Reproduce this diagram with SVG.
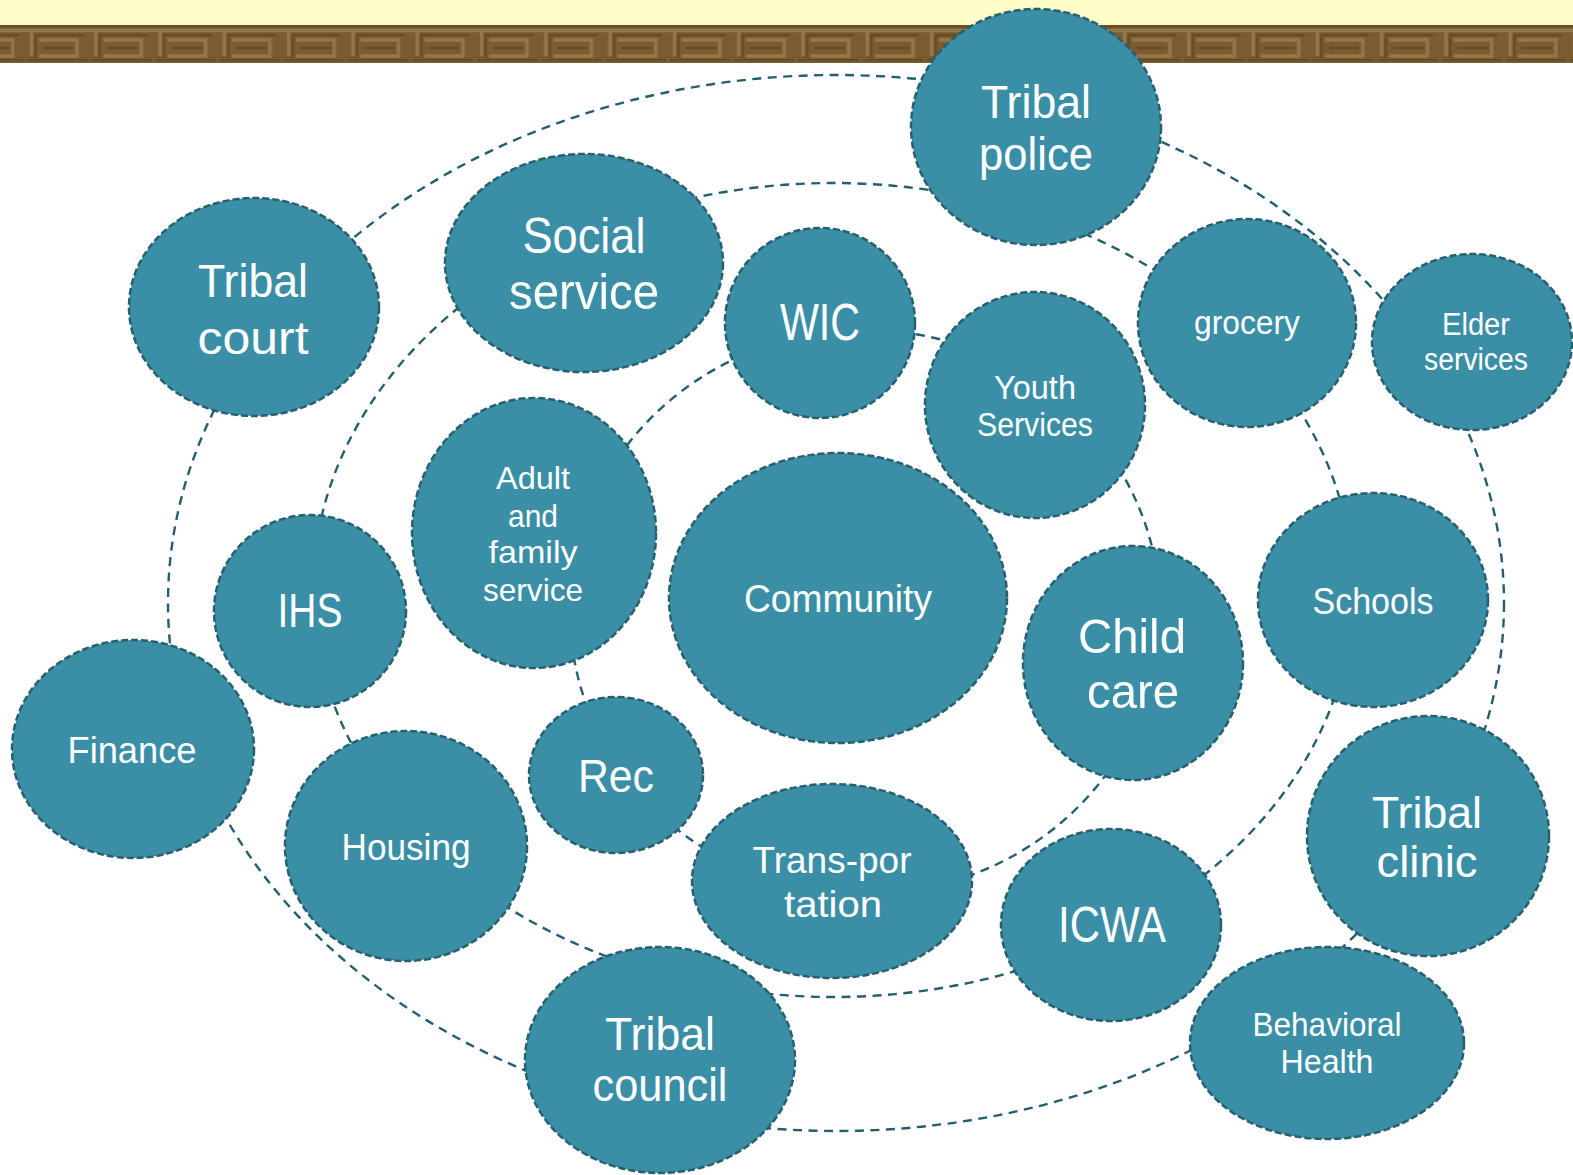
<svg xmlns="http://www.w3.org/2000/svg" width="1573" height="1175" viewBox="0 0 1573 1175">
  <defs>
    <style>
      .node ellipse { fill: #3a8fa7; stroke: #28606f; stroke-width: 2.5; stroke-dasharray: 7 3; }
      .node text { fill: #ffffff; font-family: "Liberation Sans", Arial, sans-serif; text-anchor: middle; }
      .ring { fill: none; stroke: #225f70; stroke-width: 2.4; stroke-dasharray: 9 6.5; }
      .key-hi { fill: none; stroke: #937749; stroke-width: 3.5; }
      .key-lo { fill: none; stroke: #694c23; stroke-width: 2.5; }
    </style>
    <!-- meander border tile -->
    <pattern id="meander" x="23" y="25" width="64.3" height="38" patternUnits="userSpaceOnUse">
      <rect width="64.3" height="38" fill="#7a5c30"/>
      <path class="key-lo" d="M0 1.5 H64.3 M12.5 33 V10 H60 M20 23 H50 M4 35 H64.3"/>
      <path class="key-hi" d="M0 5.5 H64.3 M8.5 5.5 V31 M16 15 H54 V31 H16"/>
    </pattern>
  </defs>

  <!-- page background and header band -->
  <rect width="1573" height="1175" fill="#ffffff"/>
  <rect width="1573" height="25" fill="#fffdc8"/>
  <rect y="25" width="1573" height="38" fill="url(#meander)"/>

  <!-- dashed rings linking the services -->
  <g id="connectors">
    <ellipse class="ring" cx="836" cy="603" rx="668" ry="528"/>
    <ellipse class="ring" cx="833" cy="590" rx="520" ry="407"/>
    <ellipse class="ring" cx="865" cy="612" rx="295" ry="282"/>
  </g>

  <g id="tribal-police" class="node">
    <ellipse cx="1036" cy="127" rx="125" ry="118"/>
    <text x="1036" y="118" font-size="46" textLength="110" lengthAdjust="spacingAndGlyphs">Tribal</text>
    <text x="1036" y="170" font-size="46" textLength="114" lengthAdjust="spacingAndGlyphs">police</text>
  </g>

  <g id="tribal-court" class="node">
    <ellipse cx="254" cy="307" rx="125" ry="109"/>
    <text x="253" y="297" font-size="46" textLength="110" lengthAdjust="spacingAndGlyphs">Tribal</text>
    <text x="253" y="354" font-size="46" textLength="111" lengthAdjust="spacingAndGlyphs">court</text>
  </g>

  <g id="social-service" class="node">
    <ellipse cx="584" cy="263" rx="139" ry="109"/>
    <text x="584" y="253" font-size="50" textLength="123" lengthAdjust="spacingAndGlyphs">Social</text>
    <text x="584" y="309" font-size="50" textLength="150" lengthAdjust="spacingAndGlyphs">service</text>
  </g>

  <g id="wic" class="node">
    <ellipse cx="820" cy="323" rx="95" ry="95"/>
    <text x="820" y="340" font-size="51" textLength="80" lengthAdjust="spacingAndGlyphs">WIC</text>
  </g>

  <g id="youth-services" class="node">
    <ellipse cx="1035" cy="405" rx="110" ry="113"/>
    <text x="1035" y="399" font-size="33" textLength="82" lengthAdjust="spacingAndGlyphs">Youth</text>
    <text x="1035" y="436" font-size="33" textLength="116" lengthAdjust="spacingAndGlyphs">Services</text>
  </g>

  <g id="grocery" class="node">
    <ellipse cx="1247" cy="323" rx="109" ry="104"/>
    <text x="1247" y="334" font-size="33" textLength="106" lengthAdjust="spacingAndGlyphs">grocery</text>
  </g>

  <g id="elder-services" class="node">
    <ellipse cx="1472" cy="342" rx="100" ry="88"/>
    <text x="1476" y="335" font-size="31" textLength="68" lengthAdjust="spacingAndGlyphs">Elder</text>
    <text x="1476" y="370" font-size="31" textLength="104" lengthAdjust="spacingAndGlyphs">services</text>
  </g>

  <g id="adult-family-service" class="node">
    <ellipse cx="534" cy="533" rx="122" ry="135"/>
    <text x="533" y="489" font-size="32" textLength="74" lengthAdjust="spacingAndGlyphs">Adult</text>
    <text x="533" y="527" font-size="32" textLength="50" lengthAdjust="spacingAndGlyphs">and</text>
    <text x="533" y="563" font-size="32" textLength="89" lengthAdjust="spacingAndGlyphs">family</text>
    <text x="533" y="601" font-size="32" textLength="100" lengthAdjust="spacingAndGlyphs">service</text>
  </g>

  <g id="ihs" class="node">
    <ellipse cx="310" cy="611" rx="96" ry="96"/>
    <text x="310" y="627" font-size="48" textLength="65" lengthAdjust="spacingAndGlyphs">IHS</text>
  </g>

  <g id="community" class="node">
    <ellipse cx="838" cy="598" rx="169" ry="145"/>
    <text x="838" y="612" font-size="39" textLength="188" lengthAdjust="spacingAndGlyphs">Community</text>
  </g>

  <g id="child-care" class="node">
    <ellipse cx="1133" cy="663" rx="110" ry="117"/>
    <text x="1132" y="653" font-size="49" textLength="108" lengthAdjust="spacingAndGlyphs">Child</text>
    <text x="1133" y="708" font-size="49" textLength="92" lengthAdjust="spacingAndGlyphs">care</text>
  </g>

  <g id="schools" class="node">
    <ellipse cx="1373" cy="600" rx="115" ry="107"/>
    <text x="1373" y="614" font-size="36" textLength="121" lengthAdjust="spacingAndGlyphs">Schools</text>
  </g>

  <g id="finance" class="node">
    <ellipse cx="133" cy="749" rx="121" ry="109"/>
    <text x="132" y="763" font-size="36" textLength="129" lengthAdjust="spacingAndGlyphs">Finance</text>
  </g>

  <g id="housing" class="node">
    <ellipse cx="406" cy="846" rx="121" ry="115"/>
    <text x="406" y="860" font-size="36" textLength="129" lengthAdjust="spacingAndGlyphs">Housing</text>
  </g>

  <g id="rec" class="node">
    <ellipse cx="616" cy="775" rx="87" ry="78"/>
    <text x="616" y="792" font-size="47" textLength="76" lengthAdjust="spacingAndGlyphs">Rec</text>
  </g>

  <g id="transportation" class="node">
    <ellipse cx="832" cy="881" rx="140" ry="97"/>
    <text x="832" y="873" font-size="37" textLength="159" lengthAdjust="spacingAndGlyphs">Trans-por</text>
    <text x="833" y="917" font-size="37" textLength="98" lengthAdjust="spacingAndGlyphs">tation</text>
  </g>

  <g id="icwa" class="node">
    <ellipse cx="1111" cy="925" rx="110" ry="96"/>
    <text x="1112" y="942" font-size="50" textLength="108" lengthAdjust="spacingAndGlyphs">ICWA</text>
  </g>

  <g id="tribal-clinic" class="node">
    <ellipse cx="1428" cy="836" rx="121" ry="120"/>
    <text x="1427" y="828" font-size="43.5" textLength="110" lengthAdjust="spacingAndGlyphs">Tribal</text>
    <text x="1427" y="877" font-size="43.5" textLength="101" lengthAdjust="spacingAndGlyphs">clinic</text>
  </g>

  <g id="behavioral-health" class="node">
    <ellipse cx="1327" cy="1043" rx="137" ry="96"/>
    <text x="1327" y="1036" font-size="33" textLength="149" lengthAdjust="spacingAndGlyphs">Behavioral</text>
    <text x="1327" y="1073" font-size="33" textLength="93" lengthAdjust="spacingAndGlyphs">Health</text>
  </g>

  <g id="tribal-council" class="node">
    <ellipse cx="660" cy="1060" rx="135" ry="113"/>
    <text x="660" y="1050" font-size="45.5" textLength="110" lengthAdjust="spacingAndGlyphs">Tribal</text>
    <text x="660" y="1101" font-size="45.5" textLength="135" lengthAdjust="spacingAndGlyphs">council</text>
  </g>
</svg>
